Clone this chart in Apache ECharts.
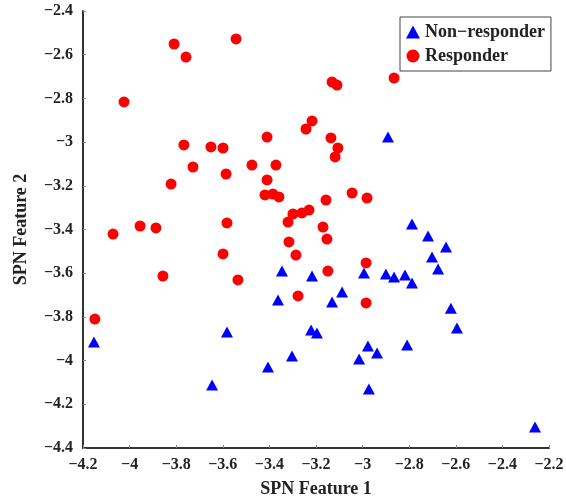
<!DOCTYPE html>
<html lang="en">
<head>
    <meta charset="UTF-8">
    <title>SPN Features</title>
    <script src="https://cdn.jsdelivr.net/npm/echarts@6/dist/echarts.min.js"></script>
    <style>
        body { margin: 0; background: #fff; }
        #chart { width: 566px; height: 497px; }
    </style>
</head>
<body>
    <div id="chart"></div>
    <script>
        // values
        const nonResponderX = [-4.153, -3.582, -3.646, -3.406, -3.363, -3.346, -3.217, -3.303, -3.221, -3.196,
            -3.131, -3.088, -2.994, -2.977, -2.938, -3.015, -2.973, -2.900, -2.865, -2.818,
            -2.788, -2.809, -2.891, -2.788, -2.719, -2.642, -2.702, -2.676, -2.621, -2.595, -2.260];
        const nonResponderY = [-3.915, -3.869, -4.112, -4.029, -3.723, -3.590, -3.613, -3.979, -3.860, -3.874,
            -3.732, -3.686, -3.599, -3.933, -3.965, -3.993, -4.130, -3.604, -3.617, -3.608,
            -3.645, -3.929, -2.977, -3.375, -3.430, -3.480, -3.526, -3.581, -3.760, -3.851, -4.304];

        const responderX = [-4.149, -4.071, -4.024, -3.955, -3.887, -3.857, -3.822, -3.809, -3.758, -3.767,
            -3.728, -3.651, -3.599, -3.586, -3.582, -3.599, -3.535, -3.543, -3.475, -3.410,
            -3.410, -3.419, -3.385, -3.359, -3.372, -3.320, -3.299, -3.260, -3.230, -3.316,
            -3.286, -3.277, -3.243, -3.217, -3.131, -3.110, -3.136, -3.106, -3.118, -3.157,
            -3.170, -3.153, -3.149, -3.045, -2.981, -2.985, -2.985, -2.865];
        const responderY = [-3.810, -3.421, -2.816, -3.384, -3.393, -3.613, -3.192, -2.551, -2.611, -3.013,
            -3.114, -3.022, -3.027, -3.146, -3.370, -3.512, -3.631, -2.528, -3.105, -2.977,
            -3.173, -3.242, -3.238, -3.251, -3.105, -3.366, -3.329, -3.324, -3.311, -3.457,
            -3.517, -3.704, -2.940, -2.903, -2.725, -2.739, -2.981, -3.027, -3.068, -3.265,
            -3.389, -3.444, -3.590, -3.233, -3.256, -3.553, -3.736, -2.707];

        const zip = (xs, ys) => xs.map((x, i) => [x, ys[i]]);
        const serif = '"Liberation Serif", "Times New Roman", serif';
        const minus = v => String(Math.round(v * 10) / 10).replace('-', '\u2212');

        const chart = echarts.init(document.getElementById('chart'));

        const axisCommon = {
            type: 'value',
            interval: 0.2,
            splitLine: { show: false },
            axisLine: { show: true, onZero: false, lineStyle: { color: '#333', width: 2 } },
            axisTick: { show: true, inside: true, length: 3, lineStyle: { color: '#888', width: 1 } },
            axisLabel: {
                color: '#222', fontFamily: serif, fontWeight: 'bold', fontSize: 16,
                formatter: minus
            },
            nameLocation: 'middle',
            nameTextStyle: { color: '#222', fontFamily: serif, fontWeight: 'bold', fontSize: 18 }
        };

        chart.setOption({
            animation: false,
            grid: { left: 83, right: 17, top: 11, bottom: 49, containLabel: false, outerBoundsMode: 'none' },
            legend: {
                orient: 'vertical',
                left: 400,
                top: 17,
                padding: [6, 6, 6, 6],
                itemGap: 6,
                itemWidth: 14,
                itemHeight: 13,
                borderColor: '#444',
                borderWidth: 1,
                textStyle: { color: '#222', fontFamily: serif, fontWeight: 'bold', fontSize: 18 },
                data: [
                    { name: 'Non\u2212responder', icon: 'triangle' },
                    { name: 'Responder', icon: 'circle' }
                ]
            },
            xAxis: Object.assign({}, axisCommon, {
                min: -4.2, max: -2.2,
                name: 'SPN Feature 1',
                nameGap: 32,
                axisLabel: Object.assign({}, axisCommon.axisLabel, { margin: 9 })
            }),
            yAxis: Object.assign({}, axisCommon, {
                min: -4.4, max: -2.4,
                name: 'SPN Feature 2',
                nameGap: 53,
                axisLabel: Object.assign({}, axisCommon.axisLabel, { margin: 10 })
            }),
            series: [
                {
                    name: 'Non\u2212responder',
                    type: 'scatter',
                    symbol: 'triangle',
                    symbolSize: [12, 11],
                    itemStyle: { color: '#0000ff', opacity: 1 },
                    data: zip(nonResponderX, nonResponderY)
                },
                {
                    name: 'Responder',
                    type: 'scatter',
                    symbol: 'circle',
                    symbolSize: 11,
                    itemStyle: { color: '#ff0000', opacity: 1 },
                    data: zip(responderX, responderY)
                }
            ]
        });
    </script>
</body>
</html>
